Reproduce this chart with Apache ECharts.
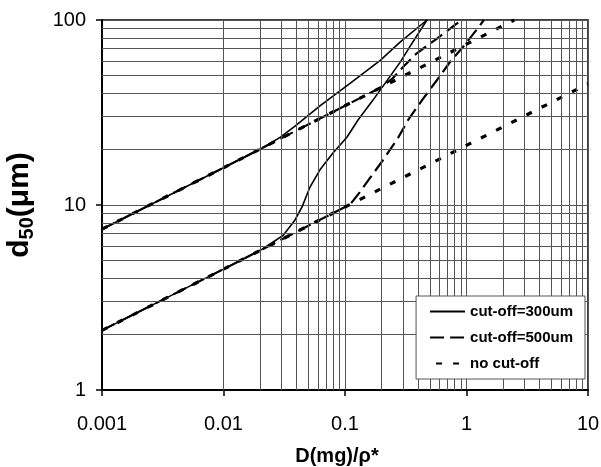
<!DOCTYPE html>
<html><head><meta charset="utf-8">
<script src="https://cdn.jsdelivr.net/npm/echarts/dist/echarts.min.js"></script>
<style>html,body{margin:0;padding:0;background:#fff}#c{width:601px;height:467px}</style>
</head><body><div id="c"></div>
<script>
// tick labels
const xTickLabels = ['0.001', '0.01', '0.1', '1', '10'];
const yTickLabels = ['1', '10', '100'];
const seriesNames = ['cut-off=300um', 'cut-off=500um', 'no cut-off'];

// series values [D(mg)/rho*, d50 (um)]
const upper300 = [[0.001,7.4],[0.01,15.9],[0.022,20.7],[0.0292,23.2],[0.0388,26.7],[0.0622,34.3],[0.11,45.4],[0.194,60.3],[0.284,76],[0.473,100]];
const upper500 = [[0.001,7.4],[0.01,15.9],[0.1,34.4],[0.194,42.9],[0.244,48],[0.306,56.4],[0.392,66.3],[0.572,79.4],[0.804,94],[0.918,100]];
const upperNone = [[0.001,7.4],[0.01,15.9],[0.1,34.4],[1,74],[2.47,100]];
const lower300 = [[0.001,2.1],[0.01,4.5],[0.0208,5.77],[0.0251,6.25],[0.0309,6.85],[0.0388,8.3],[0.0443,9.76],[0.0515,12.5],[0.0622,15.5],[0.0796,19.1],[0.104,23.3],[0.128,28.8],[0.17,36.9],[0.284,59],[0.343,72],[0.473,100]];
const lower500 = [[0.001,2.1],[0.01,4.5],[0.1,9.75],[0.11,10.06],[0.1327,11.76],[0.1607,14.0],[0.2055,17.5],[0.273,23.0],[0.33,28.8],[0.431,36.9],[0.572,47.4],[0.731,59.3],[0.935,71.5],[1.244,90.5],[1.39,100]];
const lowerNone = [[0.001,2.1],[0.01,4.5],[0.1,9.75],[1,21],[10,45.2]];

const FONT = '"Liberation Sans", Arial, sans-serif';

// minor grid positions (2..9 within each decade)
const xMinor = [], yMinor = [];
[0.001, 0.01, 0.1, 1].forEach(d => { for (let k = 2; k <= 9; k++) xMinor.push(+(k * d).toPrecision(3)); });
[1, 10].forEach(d => { for (let k = 2; k <= 9; k++) yMinor.push(k * d); });

function lbl(arr, base) {
  return v => arr[Math.round(Math.log10(v)) - base] || '';
}

const styles = {
  'cut-off=300um': {color: '#000', width: 1.6, type: 'solid'},
  'cut-off=500um': {color: '#000', width: 2.2, type: [14, 6]},
  'no cut-off': {color: '#000', width: 3.2, type: [6, 11]}
};
function mk(name, data) {
  return {name, type: 'line', data, symbol: 'none', showSymbol: false, smooth: false,
    lineStyle: styles[name], itemStyle: {color: '#000'}, z: 3, animation: false};
}
const GRID_COLOR = '#555';

const chart = echarts.init(document.getElementById('c'), null, {renderer: 'canvas'});
chart.setOption({
  animation: false,
  backgroundColor: '#fff',
  grid: {left: 102, top: 20, width: 486, height: 370, show: true, borderColor: '#000', borderWidth: 1.5,
    backgroundColor: 'transparent', containLabel: false, outerBoundsMode: 'none'},
  xAxis: {
    type: 'log', logBase: 10, min: 0.001, max: 10,
    name: 'D(mg)/ρ*', nameLocation: 'middle', nameGap: 56,
    nameTextStyle: {fontSize: 20, fontWeight: 'bold', color: '#000', fontFamily: FONT, padding: [0, 16, 0, 0]},
    axisLine: {show: true, onZero: false, lineStyle: {color: '#000', width: 2}},
    axisTick: {show: true, inside: false, length: 6, lineStyle: {color: '#000', width: 1.5}},
    minorTick: {show: false},
    axisLabel: {fontSize: 20, color: '#000', fontFamily: FONT, margin: 24, formatter: lbl(xTickLabels, -3)},
    splitLine: {show: true, lineStyle: {color: GRID_COLOR, width: 1}}
  },
  yAxis: {
    type: 'log', logBase: 10, min: 1, max: 100,
    name: '{a|d}{b|50}{a|(μm)}', nameLocation: 'middle', nameGap: 65,
    nameTextStyle: {color: '#000', fontFamily: FONT, rich: {
      a: {fontSize: 30, fontWeight: 'bold', color: '#000', fontFamily: FONT, lineHeight: 34},
      b: {fontSize: 20, fontWeight: 'bold', color: '#000', fontFamily: FONT, lineHeight: 22, verticalAlign: 'bottom'}
    }},
    axisLine: {show: true, onZero: false, lineStyle: {color: '#000', width: 2}},
    axisTick: {show: true, inside: false, length: 6, lineStyle: {color: '#000', width: 1.5}},
    minorTick: {show: false},
    axisLabel: {fontSize: 20, color: '#000', fontFamily: FONT, margin: 16, formatter: lbl(yTickLabels, 0)},
    splitLine: {show: true, lineStyle: {color: GRID_COLOR, width: 1}}
  },
  legend: {
    orient: 'vertical', right: 16, bottom: 88, z: 20,
    backgroundColor: '#fff', borderColor: '#555', borderWidth: 1, borderRadius: 0,
    padding: [8, 12, 8, 13], itemGap: 11, itemWidth: 35, itemHeight: 14,
    itemStyle: {color: 'rgba(0,0,0,0)', borderColor: 'rgba(0,0,0,0)', borderWidth: 0, opacity: 0},
    textStyle: {fontSize: 15, fontWeight: 'bold', color: '#000', fontFamily: FONT},
    data: [
      {name: seriesNames[0]},
      {name: seriesNames[1]},
      {name: seriesNames[2], lineStyle: {dashOffset: -6}}
    ],
    selectedMode: false
  },
  series: [
    {type: 'line', name: 'grid', data: [], z: 1, silent: true, animation: false,
      markLine: {silent: true, symbol: ['none', 'none'], animation: false, label: {show: false},
        lineStyle: {type: 'solid', color: GRID_COLOR, width: 1},
        emphasis: {disabled: true},
        data: xMinor.map(v => ({xAxis: v})).concat(yMinor.map(v => ({yAxis: v})))}},
    mk(seriesNames[0], upper300),
    mk(seriesNames[0], lower300),
    mk(seriesNames[1], upper500),
    mk(seriesNames[1], lower500),
    mk(seriesNames[2], upperNone),
    mk(seriesNames[2], lowerNone)
  ]
});
</script>
</body></html>
